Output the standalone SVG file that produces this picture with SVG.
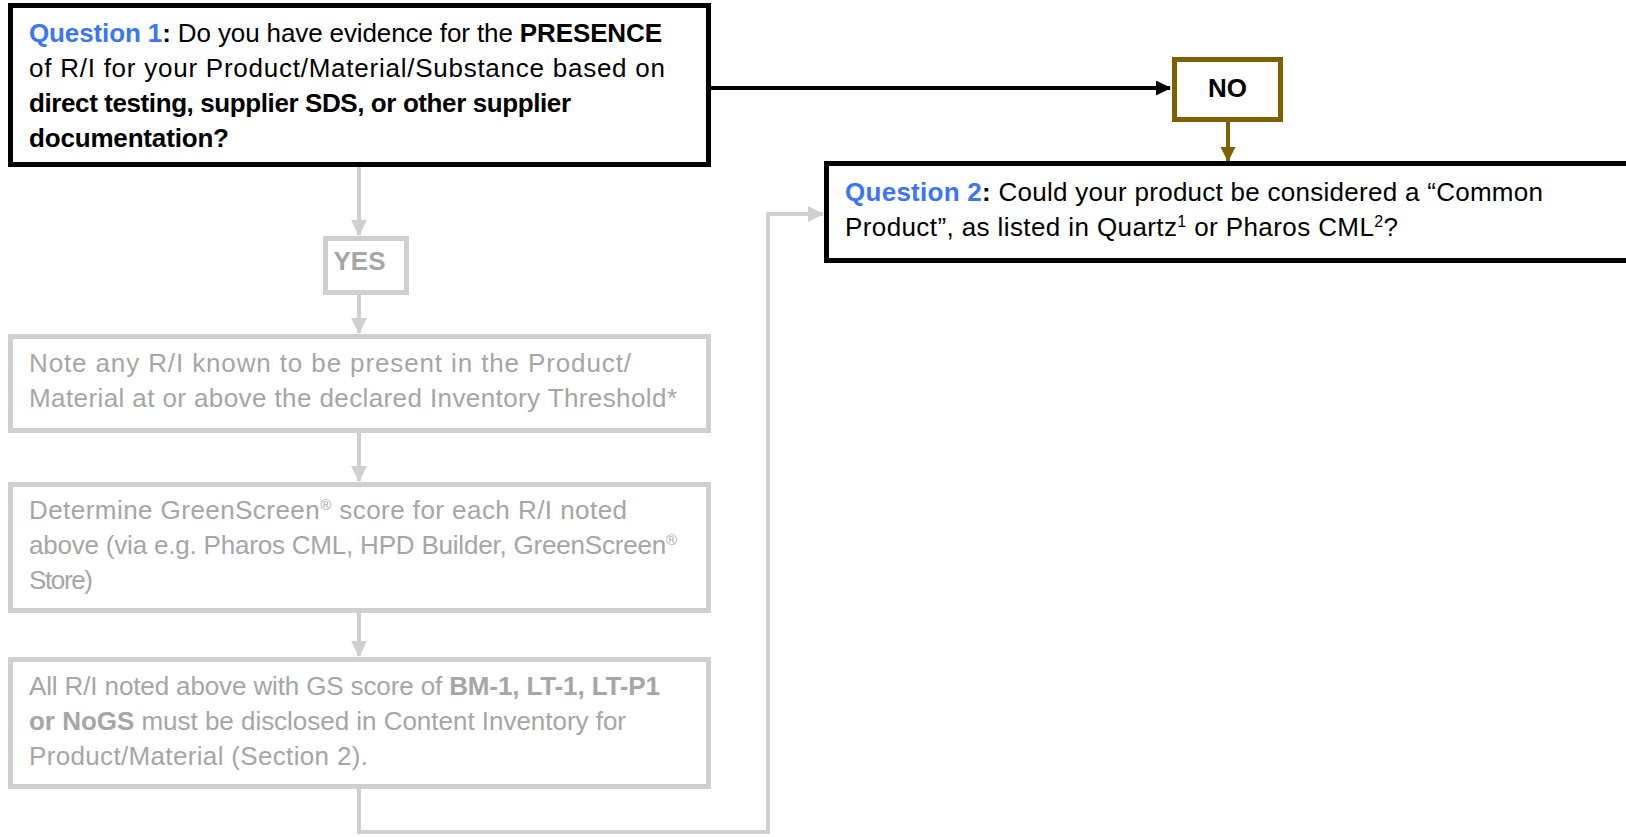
<svg xmlns="http://www.w3.org/2000/svg" width="1626" height="837" viewBox="0 0 1626 837">
<defs>
<style>
.t{font-family:"Liberation Sans",Arial,sans-serif;font-size:26px;fill:#000}
.g{fill:#A6A6A6}
.b{font-weight:bold}
.q{fill:#3D75F2;font-weight:bold}
.box{fill:#fff;stroke:#000;stroke-width:5}
.gbox{fill:#fff;stroke:#D0D0D0;stroke-width:5}
.obox{fill:#fff;stroke:#7F6000;stroke-width:5}
.gl{fill:none;stroke:#D0D0D0;stroke-width:4}
</style>
<marker id="ak" markerUnits="userSpaceOnUse" markerWidth="15" markerHeight="15" refX="14" refY="7.5" orient="auto"><path d="M0,0 L15,7.5 L0,15 Z" fill="#000"/></marker>
<marker id="ag" markerUnits="userSpaceOnUse" markerWidth="16" markerHeight="16" refX="15" refY="8" orient="auto"><path d="M0,0 L16,8 L0,16 Z" fill="#D0D0D0"/></marker>
<marker id="ao" markerUnits="userSpaceOnUse" markerWidth="15" markerHeight="15" refX="14" refY="7.5" orient="auto"><path d="M0,0 L15,7.5 L0,15 Z" fill="#7F6000"/></marker>
</defs>
<rect width="1626" height="837" fill="#fff"/>
<g id="connectors">
<line x1="711" y1="88" x2="1170" y2="88" stroke="#000" stroke-width="4" marker-end="url(#ak)"/>
<line x1="1228" y1="121" x2="1228" y2="161" stroke="#7F6000" stroke-width="4" marker-end="url(#ao)"/>
<line x1="359" y1="167" x2="359" y2="235" class="gl" marker-end="url(#ag)"/>
<line x1="359" y1="294" x2="359" y2="333" class="gl" marker-end="url(#ag)"/>
<line x1="359" y1="432" x2="359" y2="481" class="gl" marker-end="url(#ag)"/>
<line x1="359" y1="612" x2="359" y2="656" class="gl" marker-end="url(#ag)"/>
<polyline points="359,788 359,832 768,832 768,214 823,214" class="gl" marker-end="url(#ag)"/>
</g>
<g id="q1">
<rect x="10.5" y="5.5" width="698" height="159" class="box"/>
<text class="t" x="29" y="42" textLength="633"><tspan class="q">Question 1</tspan><tspan class="b">:</tspan>  Do you have evidence for the <tspan class="b">PRESENCE</tspan></text>
<text class="t" x="29" y="77" textLength="636">of R/I for your Product/Material/Substance based on</text>
<text class="t b" x="29" y="112" textLength="542">direct testing, supplier SDS, or other supplier</text>
<text class="t b" x="29" y="147" textLength="200">documentation?</text>
</g>
<g id="no">
<rect x="1174.5" y="59.5" width="106" height="60" class="obox"/>
<text class="t b" x="1227.5" y="97" text-anchor="middle">NO</text>
</g>
<g id="q2">
<rect x="826.5" y="163.5" width="820" height="97" class="box"/>
<text class="t" x="845" y="201" textLength="698"><tspan class="q">Question 2</tspan><tspan class="b">:</tspan> Could your product be considered a “Common</text>
<text class="t" x="845" y="236" textLength="553">Product”, as listed in Quartz<tspan font-size="16" dy="-9">1</tspan><tspan dy="9"> or Pharos CML</tspan><tspan font-size="16" dy="-9">2</tspan><tspan dy="9">?</tspan></text>
</g>
<g id="yes">
<rect x="325.5" y="238.5" width="81" height="54" class="gbox"/>
<text class="t b g" x="359.5" y="270" text-anchor="middle">YES</text>
</g>
<g id="note">
<rect x="10.5" y="336.5" width="698" height="94" class="gbox"/>
<text class="t g" x="29" y="372" textLength="602">Note any R/I known to be present in the Product/</text>
<text class="t g" x="29" y="407" textLength="648">Material at or above the declared Inventory Threshold*</text>
</g>
<g id="determine">
<rect x="10.5" y="484.5" width="698" height="126" class="gbox"/>
<text class="t g" x="29" y="519" textLength="598">Determine GreenScreen<tspan font-size="15" dy="-9">®</tspan><tspan dy="9"> score for each R/I noted</tspan></text>
<text class="t g" x="29" y="554" textLength="648">above (via e.g. Pharos CML, HPD Builder, GreenScreen<tspan font-size="15" dy="-9">®</tspan></text>
<text class="t g" x="29" y="589" textLength="64">Store)</text>
</g>
<g id="disclose">
<rect x="10.5" y="659.5" width="698" height="127" class="gbox"/>
<text class="t g" x="29" y="695" textLength="631">All R/I noted above with GS score of <tspan class="b">BM-1, LT-1, LT-P1</tspan></text>
<text class="t g" x="29" y="730" textLength="597"><tspan class="b">or NoGS</tspan> must be disclosed in Content Inventory for</text>
<text class="t g" x="29" y="765" textLength="339">Product/Material (Section 2).</text>
</g>
</svg>
